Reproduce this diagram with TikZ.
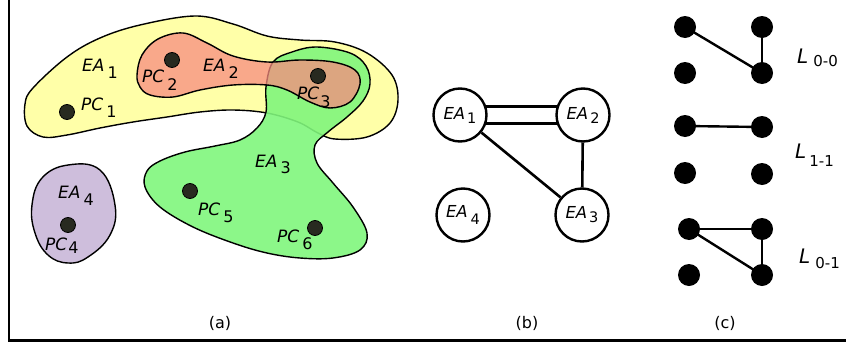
\documentclass[tikz,border=0pt]{standalone}
\usepackage{fontspec}
\setmainfont{DejaVu Sans}
\usetikzlibrary{backgrounds}
\definecolor{ylw}{RGB}{255,255,168}
\definecolor{rd}{RGB}{247,139,128}
\definecolor{grn}{RGB}{128,246,124}
\definecolor{prp}{RGB}{206,190,220}
\definecolor{dotc}{RGB}{40,42,32}
\newcommand\mylab[4]{\textit{#1}\kern#4\raisebox{-#3}{#2}}
\newcommand\subA{\fontsize{16}{16}\selectfont}
\newcommand\subB{\fontsize{14.5}{14.5}\selectfont}
\newcommand\subC{\fontsize{15}{15}\selectfont}
\tikzset{
  blob/.style={draw=black, line width=1.4pt},
  pcdot/.style={circle, draw=black, line width=0.8pt, fill=dotc, minimum size=15pt, inner sep=0pt},
  alab/.style={anchor=base west, inner sep=0pt, font=\fontsize{17}{17}\selectfont},
  gnode/.style={circle, draw=black, line width=2.4pt, fill=white, minimum size=53pt, inner sep=0pt, font=\fontsize{16.5}{16.5}\selectfont},
  gedge/.style={line width=2.6pt},
  cdot/.style={circle, fill=black, minimum size=22pt, inner sep=0pt},
  cedge/.style={line width=2.4pt},
  llab/.style={anchor=base west, inner sep=0pt, font=\fontsize{20}{20}\selectfont},
  captxt/.style={inner sep=0pt, font=\fontsize{16}{16}\selectfont}
}
\begin{document}
\begin{tikzpicture}[x=1pt,y=-1pt]
\useasboundingbox (0,0) rectangle (846,343);
% frame
\draw[line width=2.2pt] (9,0) -- (9,340.5) -- (846,340.5);
% (a) blobs
\draw[blob, fill=ylw] plot[smooth cycle, tension=0.6] coordinates {
 (33,88) (67,57) (100,38) (140,25) (195,16) (233,24) (267,36) (300,40)
 (335,42) (367,53) (392,75) (398,100) (390,123) (367,137) (335,139)
 (318,133) (298,122) (267,113) (233,110) (200,112) (167,117) (133,122)
 (100,128) (67,135) (43,137) (27,126) (25,104)};
\draw[blob, fill=grn, fill opacity=0.9] plot[smooth cycle, tension=0.6] coordinates {
 (273,62) (292,52) (317,47) (350,53) (366,66) (370,84) (363,101) (347,117)
 (328,132) (315,145) (317,163) (333,183) (353,207) (367,233) (360,250)
 (333,258) (300,258) (267,253) (233,243) (193,227) (160,207) (145,187)
 (147,171) (160,161) (185,152) (215,146) (240,140) (257,128) (266,112)
 (266,87)};
\draw[blob, fill=rd, fill opacity=0.75] plot[smooth cycle, tension=0.6] coordinates {
 (137,75) (142,55) (158,39) (183,33) (207,43) (233,56) (267,62) (300,60)
 (333,62) (355,70) (360,84) (350,102) (330,108) (310,102) (287,90)
 (267,85) (233,85) (200,90) (173,97) (150,95) (140,87)};
\draw[blob, fill=prp] plot[smooth cycle, tension=0.7] coordinates {
 (32,205) (42,178) (68,165) (100,170) (115,205) (110,235) (88,257)
 (68,263) (48,255) (35,233)};
% (a) dots
\node[pcdot] (pc1) at (67,112) {};
\node[pcdot] (pc2) at (172,60) {};
\node[pcdot] (pc3) at (318,76) {};
\node[pcdot] (pc4) at (68,225) {};
\node[pcdot] (pc5) at (190,191) {};
\node[pcdot] (pc6) at (315,228) {};
% (a) labels
\node[alab] (lea1) at (82,71) {\mylab{EA}{\subA 1}{7pt}{3pt}};
\node[alab] (lpc1) at (81,110) {\mylab{PC}{\subA 1}{7pt}{3pt}};
\node[alab] (lpc2) at (142,82) {\mylab{PC}{\subA 2}{8pt}{3pt}};
\node[alab] (lea2) at (203,71) {\mylab{EA}{\subA 2}{7pt}{3pt}};
\node[alab] (lpc3) at (297,99) {\mylab{PC}{\subA 3}{8pt}{1pt}};
\node[alab] (lea3) at (255,167) {\mylab{EA}{\subA 3}{6pt}{3pt}};
\node[alab] (lea4) at (58,198) {\mylab{EA}{\subA 4}{7pt}{3pt}};
\node[alab] (lpc4) at (45,250) {\mylab{PC}{\subA 4}{3pt}{1pt}};
\node[alab] (lpc5) at (198,215) {\mylab{PC}{\subA 5}{7pt}{3pt}};
\node[alab] (lpc6) at (277,242) {\mylab{PC}{\subA 6}{7pt}{3pt}};
% (b) graph
\node[gnode] (b1) at (460,115) {\mylab{EA}{\subB 1}{4pt}{2pt}};
\node[gnode] (b2) at (583,115) {\mylab{EA}{\subB 2}{4pt}{2pt}};
\node[gnode] (b3) at (582,215) {\mylab{EA}{\subB 3}{4pt}{2pt}};
\node[gnode] (b4) at (463,215) {\mylab{EA}{\subB 4}{7pt}{3pt}};
\begin{pgfonlayer}{background}
\draw[gedge, double=white, double distance=14pt] (b1.center) -- (b2.center);
\end{pgfonlayer}
\draw[gedge] (b1) -- (b3);
\draw[gedge] (b2) -- (b3);
% (c)
\node[cdot] (c1a) at (685,27) {};
\node[cdot] (c1b) at (762,27) {};
\node[cdot] (c1c) at (685,73) {};
\node[cdot] (c1d) at (762,73) {};
\draw[cedge] (c1a.center) -- (c1d.center);
\draw[cedge] (c1b.center) -- (c1d.center);
\node[cdot] (c2a) at (685,126) {};
\node[cdot] (c2b) at (762,127) {};
\node[cdot] (c2c) at (685,173) {};
\node[cdot] (c2d) at (762,174) {};
\draw[cedge] (c2a.center) -- (c2b.center);
\node[cdot] (c3a) at (689,229) {};
\node[cdot] (c3b) at (762,229) {};
\node[cdot] (c3c) at (689,275) {};
\node[cdot] (c3d) at (762,275) {};
\draw[cedge] (c3a.center) -- (c3b.center);
\draw[cedge] (c3a.center) -- (c3d.center);
\draw[cedge] (c3b.center) -- (c3d.center);
\node[llab] (l00) at (797,63) {\mylab{L}{\subC 0-0}{3pt}{5pt}};
\node[llab] (l11) at (795,158) {\mylab{L}{\subC 1-1}{8pt}{3pt}};
\node[llab] (l01) at (799,263) {\mylab{L}{\subC 0-1}{5pt}{5pt}};
% captions
\node[captxt] (capa) at (220,323) {(a)};
\node[captxt] (capb) at (527,323) {(b)};
\node[captxt] (capc) at (725,323) {(c)};
\end{tikzpicture}
\end{document}
